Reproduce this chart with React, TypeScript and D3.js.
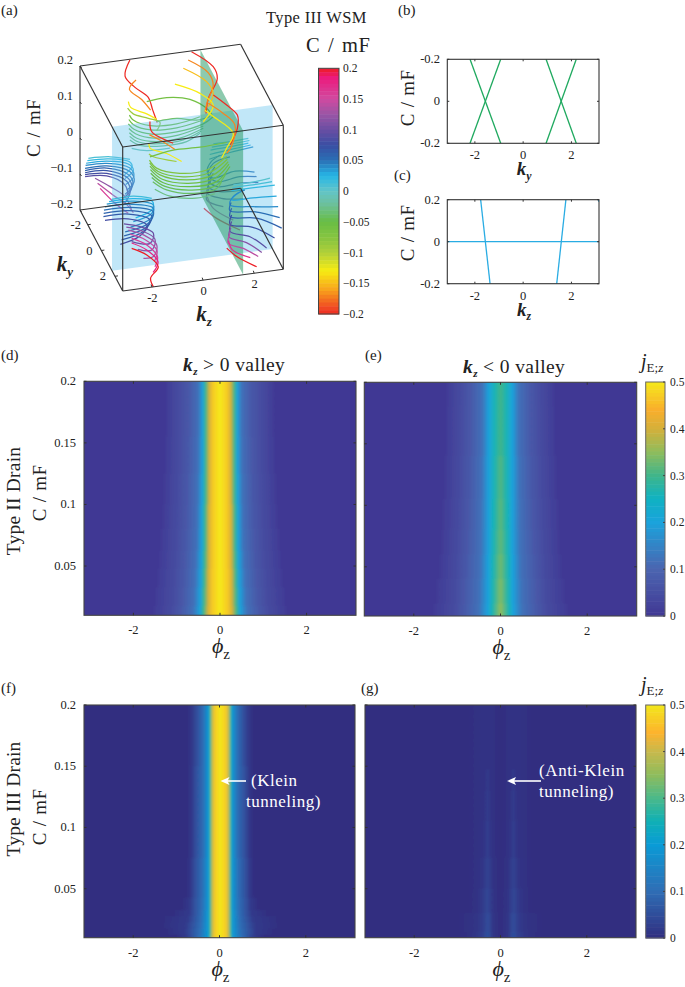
import React from "react";
import * as d3 from "d3";

const PI = Math.PI;
const FONT = "'Liberation Serif', serif";

// ---------- panel (a) data: each row is [colour value, [kz, C], ...] at a fixed ky
const kyBack = -3.14;
const kyMid = 0;
const kyLeft = -2.4;
const kyFront = 3.14;

const curvesTopBack: any[] = [
  [-0.2, [-1.19, .198], [-1.38, .155], [-.99, .12], [-.47, .087], [-.3, .051], [-.12, .014]],
  [-0.17, [-.95, .14], [-1.21, .117], [-.73, .084], [-.38, .051]],
  [-0.13, [-1.25, .083], [-1.16, .066], [-.53, .042], [-.14, .023]],
  [-0.09, [-1.28, .065], [-1.06, .047], [-.47, .029], [-.01, .013], [-.14, -.008]],
  [-0.06, [-.53, .076], [.25, .08], [1.16, .066], [1.88, .03], [2.07, .007]],
  [-0.06, [-1.21, .045], [-1.06, .03], [-.4, .008], [.64, .003], [1.55, .014]],
  [-0.055, [-.14, .017], [.64, .018], [1.42, .006], [1.94, .011]],
  [-0.055, [-1.23, .033], [-1.05, .017], [-.37, -.004], [.64, -.008], [1.62, .003]],
  [-0.05, [-1.25, .021], [-1.03, .004], [-.34, -.016], [.64, -.019], [1.68, -.007], [2.07, .009]],
  [-0.045, [-1.23, .008], [-.97, -.009], [-.24, -.028], [.7, -.029], [1.68, -.013]],
  [-0.04, [-1.21, -.004], [-.92, -.022], [-.14, -.039], [.77, -.038], [1.68, -.019]],
  [-0.035, [-1.2, -.014], [-.85, -.033], [0, -.046], [.9, -.044], [1.6, -.026]],
  [-0.03, [-1.19, -.024], [-.79, -.043], [.12, -.053], [1.03, -.05], [1.55, -.032]],
  [-0.01, [-1.12, -.048], [-.53, -.06], [.38, -.062]],
];
const curvesTopBackRight: any[] = [
  [-0.2, [1.22, .198], [2.07, .148], [2.23, .114], [1.88, .062], [1.79, .021]],
  [-0.17, [1.09, .176], [1.88, .133], [2.07, .097], [1.84, .053], [1.75, .026]],
  [-0.15, [.9, .155], [1.81, .109], [2.07, .074], [1.88, .039]],
  [-0.13, [.57, .114], [1.55, .079], [2.07, .042], [1.68, -.001]],
];
const curvesTopFront: any[] = [
  [-0.2, [-1.24, .14], [-1.17, .111], [-.33, .071]],
  [-0.17, [-1.26, .103], [-.85, .085], [-.26, .053]],
  [-0.13, [-1.28, .08], [-1.24, .066], [-.59, .045], [0, .017]],
  [-0.09, [-1.28, .05], [-1.11, .041], [-.2, .019]],
  [-0.07, [-1.26, .033], [-.98, .008], [-.07, -.015], [.98, -.016], [1.76, .014]],
  [-0.065, [-1.25, .025], [-.92, -.002], [.06, -.026], [1.1, -.024], [1.79, .006]],
  [-0.06, [-1.24, .016], [-.85, -.012], [.2, -.036], [1.24, -.032], [1.82, -.001]],
  [-0.055, [-1.22, .006], [-.78, -.024], [.26, -.046], [1.3, -.042], [1.85, -.008]],
  [-0.05, [-1.21, -.004], [-.72, -.035], [.33, -.056], [1.37, -.052], [1.89, -.015]],
  [-0.045, [-1.17, -.016], [-.65, -.046], [.4, -.066], [1.37, -.062], [1.72, -.035]],
  [-0.04, [-1.13, -.028], [-.59, -.056], [.46, -.076], [1.37, -.071], [1.56, -.054]],
  [-0.03, [-1.05, -.05], [-.45, -.075], [.55, -.09], [1.3, -.085]],
  [-0.06, [-1.24, .042], [-.33, .052], [.72, .05], [1.76, .053]],
  [-0.2, [1.24, .19], [1.76, .157], [2.18, .125], [2.18, .088], [1.89, .045]],
  [-0.17, [1.04, .169], [1.63, .135], [2.08, .099], [1.95, .04], [1.76, .023]],
  [-0.13, [.91, .151], [1.24, .13], [2.02, .076], [1.76, .037], [1.56, .011]],
];
const curvesLowLeftBack: any[] = [
  [0.01, [-3.01, -.031], [-2.16, -.035], [-1.38, -.05]],
  [0.02, [-3.05, -.037], [-2.22, -.04], [-1.4, -.056], [-1.3, -.07], [-1.6, -.09]],
  [0.03, [-3.1, -.044], [-2.29, -.046], [-1.45, -.062], [-1.25, -.081], [-1.58, -.101]],
  [0.04, [-3.12, -.05], [-2.29, -.052], [-1.4, -.073], [-1.23, -.098], [-1.55, -.118]],
  [0.05, [-3.14, -.058], [-2.29, -.059], [-1.38, -.084], [-1.22, -.113], [-1.51, -.134]],
  [0.06, [-3.14, -.064], [-2.29, -.065], [-1.42, -.093], [-1.27, -.122], [-1.58, -.145]],
  [0.07, [-3.14, -.07], [-2.29, -.072], [-1.45, -.102], [-1.32, -.131], [-1.64, -.155]],
  [0.08, [-3.14, -.075], [-2.29, -.08], [-1.5, -.11], [-1.38, -.142], [-1.6, -.17]],
  [0.09, [-3.14, -.081], [-2.29, -.087], [-1.58, -.119], [-1.45, -.153]],
  [0.12, [-2.75, -.089], [-2.16, -.118], [-1.58, -.151], [-1.32, -.191]],
  [0.14, [-2.65, -.104], [-2.05, -.142], [-1.5, -.175], [-1.25, -.199]],
  [0.16, [-2.55, -.119], [-1.97, -.166], [-1.45, -.199]],
];
const curvesLowLeftMid: any[] = [
  [0.015, [-2.74, -.062], [-1.89, -.061], [-1.17, -.074]],
  [0.025, [-2.84, -.067], [-1.89, -.068], [-1.14, -.083], [-1.15, -.105], [-1.8, -.122]],
  [0.035, [-2.93, -.073], [-1.89, -.075], [-1.11, -.093], [-1.17, -.116], [-1.89, -.132]],
  [0.042, [-3.0, -.08], [-1.95, -.083], [-1.11, -.102], [-1.22, -.13], [-2.0, -.146]],
  [0.05, [-3.04, -.089], [-2.02, -.091], [-1.11, -.112], [-1.3, -.142], [-2.21, -.157]],
  [0.058, [-3.05, -.098], [-2.05, -.1], [-1.17, -.123], [-1.4, -.153], [-2.25, -.168]],
  [0.065, [-3.06, -.107], [-2.08, -.109], [-1.24, -.134], [-1.5, -.163], [-2.35, -.178]],
  [0.08, [-3.0, -.118], [-2.1, -.122], [-1.35, -.148], [-1.65, -.175], [-2.4, -.19]],
];
const curvesLowLeftFront: any[] = [
  [0.1, [-3.09, -.014], [-2.46, -.028], [-1.94, -.051], [-2.07, -.078], [-2.79, -.066]],
  [0.115, [-3.0, -.024], [-2.4, -.04], [-1.88, -.068], [-2.0, -.097], [-2.55, -.09]],
  [0.13, [-2.92, -.033], [-2.33, -.052], [-1.81, -.085], [-1.94, -.116], [-2.33, -.117]],
  [0.145, [-2.85, -.045], [-2.26, -.066], [-1.8, -.1], [-1.9, -.13]],
  [0.16, [-2.79, -.057], [-2.2, -.081], [-1.78, -.118], [-1.88, -.145]],
  [0.18, [-2.79, -.07], [-2.2, -.095], [-1.76, -.132], [-1.95, -.16]],
  [0.2, [-2.79, -.085], [-2.2, -.109], [-1.75, -.146], [-2.05, -.175], [-1.94, -.2]],
];
const curvesLowRightMid: any[] = [
  [0.005, [1.24, .054], [1.89, .054], [2.61, .056]],
  [0.012, [1.18, .046], [1.89, .047], [2.65, .05]],
  [0.02, [1.13, .038], [1.89, .04], [2.61, .043]],
  [0.03, [1.1, .026], [1.89, .032], [2.7, .037]],
  [0.04, [1.08, .013], [1.89, .024], [2.8, .031]],
  [0.05, [1.5, .02], [1.15, .005], [1.0, -.02], [1.2, -.04], [2.1, -.03], [2.85, -.04]],
  [0.06, [1.89, .012], [1.24, 0], [1.04, -.03], [1.37, -.052], [2.28, -.047], [2.93, -.053]],
  [0.07, [1.3, -.01], [1.05, -.045], [1.4, -.066], [2.3, -.065], [3.0, -.07]],
  [0.08, [1.24, -.028], [1.04, -.063], [1.5, -.081], [2.41, -.085]],
  [0.095, [1.15, -.045], [1.0, -.08], [1.55, -.1], [2.4, -.11]],
  [0.11, [1.11, -.063], [.98, -.099], [1.63, -.124]],
  [0.14, [1.0, -.09], [1.24, -.125], [2.02, -.165]],
  [0.2, [.87, -.121], [1.37, -.154], [2.28, -.195]],
];
const curvesLowRightFront: any[] = [
  [0.005, [1.19, .053], [1.84, .053], [2.62, .058]],
  [0.012, [1.15, .046], [1.84, .046], [2.7, .048]],
  [0.02, [1.12, .038], [1.84, .038], [2.81, .037]],
  [0.03, [1.4, .03], [1.12, .012], [1.84, .01], [2.88, .006]],
  [0.04, [1.64, .035], [1.19, .021], [1.06, -.001], [1.97, -.015], [2.94, -.024]],
  [0.05, [1.1, .005], [1.05, -.017], [2.05, -.03], [3.0, -.055]],
  [0.06, [1.12, -.011], [1.06, -.034], [2.1, -.048], [3.08, -.085]],
  [0.075, [1.12, -.03], [1.06, -.055], [1.95, -.072], [2.8, -.11]],
  [0.09, [1.12, -.048], [1.06, -.075], [1.84, -.097], [2.49, -.135]],
  [0.115, [1.09, -.065], [1.02, -.09], [1.7, -.112], [2.3, -.145]],
  [0.14, [1.06, -.08], [.99, -.107], [1.58, -.127], [2.16, -.155]],
  [0.17, [1.0, -.1], [1.15, -.127], [1.85, -.155]],
  [0.2, [.93, -.12], [1.32, -.147], [2.1, -.183]],
];
const planeKy = 1.57;
const planeKz = 1.57;
const cTicks3d = [-0.2, -0.1, 0, 0.1, 0.2];
const kTicks3d = [-2, 0, 2];

const rainbowVals = [0.2, 0.185, 0.15, 0.125, 0.1, 0.075, 0.05, 0.025, 0, -0.02, -0.05, -0.08, -0.1, -0.13, -0.16, -0.2];
const rainbowCols = ["#ed1c24", "#ec1a7c", "#d04aa0", "#9a55a5", "#6a4ea3", "#3a4ea3", "#2a6fb5", "#27b6e6", "#62c5c8", "#6cc0a0", "#68bd45", "#8cc63f", "#b0cf3a", "#f7ec13", "#f8a51c", "#ee2a24"];
const rainbowTicks = [0.2, 0.15, 0.1, 0.05, 0, -0.05, -0.1, -0.15, -0.2];

// ---------- panels (b), (c)
const linesB = [[-2.2, -0.2, -0.93, 0.2], [-0.93, -0.2, -2.2, 0.2], [0.95, -0.2, 2.2, 0.2], [2.2, -0.2, 0.95, 0.2]];
const linesC = [[-1.76, 0.2, -1.37, -0.2], [1.77, 0.2, 1.39, -0.2], [-3.14, 0, 3.14, 0], [3.12, 0.2, 3.14, 0.19]];

// ---------- heat maps: half widths in phi at which j reaches each level
const levelsD = [0.012, 0.04, 0.07, 0.12, 0.2, 0.3, 0.4, 0.47];
const rowsD = [
  [0.2, 0.5, 1.23, 1.0, .72, .5, .4, .33, .25, .16],
  [0.17, 0.5, 1.23, 1.0, .72, .5, .4, .33, .25, .16],
  [0.14, 0.5, 1.25, 1.0, .74, .51, .4, .33, .25, .16],
  [0.11, 0.5, 1.28, 1.02, .76, .52, .41, .33, .25, .16],
  [0.09, 0.5, 1.31, 1.03, .77, .53, .42, .34, .26, .16],
  [0.07, 0.5, 1.35, 1.05, .79, .54, .42, .34, .26, .16],
  [0.055, 0.5, 1.39, 1.07, .81, .56, .43, .35, .26, .16],
  [0.04, 0.5, 1.43, 1.1, .84, .58, .44, .36, .27, .17],
  [0.025, 0.5, 1.48, 1.12, .86, .6, .45, .37, .27, .17],
  [0.01, 0.5, 1.52, 1.15, .9, .62, .46, .38, .28, .17],
];
const levelsE = [0.012, 0.04, 0.07, 0.12, 0.2, 0.26];
const rowsE = [
  [0.2, 0.3, 1.23, .95, .7, .42, .27, .14],
  [0.16, 0.3, 1.24, .96, .7, .42, .27, .14],
  [0.12, 0.31, 1.27, .98, .72, .44, .27, .15],
  [0.09, 0.315, 1.31, 1.0, .74, .45, .27, .16],
  [0.07, 0.32, 1.34, 1.02, .77, .46, .27, .17],
  [0.05, 0.33, 1.38, 1.04, .8, .47, .28, .18],
  [0.03, 0.34, 1.45, 1.08, .83, .49, .28, .19],
  [0.01, 0.35, 1.52, 1.1, .85, .5, .29, .2],
];
const levelsF = [0.006, 0.02, 0.05, 0.1, 0.2, 0.3, 0.4, 0.47];
const rowsF = [
  [0.2, 0.5, .74, .65, .55, .4, .27, .23, .19, .12],
  [0.1, 0.5, .74, .66, .58, .4, .27, .23, .19, .12],
  [0.05, 0.5, .76, .68, .6, .42, .27, .23, .19, .12],
  [0.035, 0.5, .85, .7, .62, .43, .27, .23, .19, .12],
  [0.03, 0.5, 1.05, .72, .63, .44, .28, .23, .19, .12],
  [0.025, 0.5, 1.28, .76, .65, .45, .28, .23, .19, .12],
  [0.02, 0.5, 1.3, .8, .68, .46, .28, .23, .19, .12],
  [0.015, 0.5, 1.2, .82, .7, .48, .28, .23, .19, .12],
  [0.01, 0.5, 1.0, .8, .68, .5, .28, .24, .19, .12],
];
const phiG = [0, .1, .18, .24, .3, .36, .42, .55, .75, 1.0];
const rowsG = [
  [0.2, 0, .002, .008, .008, .008, .008, .008, .006, 0, 0],
  [0.155, 0, .002, .008, .008, .008, .008, .008, .006, 0, 0],
  [0.14, 0, .002, .008, .008, .02, .008, .008, .006, 0, 0],
  [0.12, 0, .002, .008, .012, .024, .012, .008, .006, 0, 0],
  [0.09, 0, .003, .008, .016, .028, .016, .01, .006, 0, 0],
  [0.06, 0, .004, .01, .022, .034, .022, .012, .007, 0, 0],
  [0.04, 0, .006, .012, .028, .04, .03, .018, .008, 0, 0],
  [0.02, 0, .008, .014, .036, .05, .036, .024, .012, .006, 0],
  [0.01, 0, .008, .014, .04, .055, .04, .03, .016, .004, 0],
];
const phiTicks = [-2, 0, 2];
const driveTicks = [0.05, 0.1, 0.15, 0.2];
const jTicks = [0, 0.1, 0.2, 0.3, 0.4, 0.5];
const jValsUpper = [0, 0.1, 0.2, 0.25, 0.3, 0.35, 0.4, 0.44, 0.5];
const jColsUpper = ["#413894", "#4b65b0", "#1ba3dc", "#0fb2c2", "#40b58a", "#8fbc5c", "#d5b03a", "#f9ae2c", "#f5e91b"];
const jValsLower = [0, 0.1, 0.2, 0.25, 0.3, 0.35, 0.4, 0.44, 0.5];
const jColsLower = ["#302d80", "#2f6db5", "#0a9bd6", "#0fb0b5", "#4bb98a", "#8fbc5c", "#c8b94c", "#fdb32d", "#f2e71c"];

// ---------- shared scales
const rainbow = d3.scaleLinear<string>().domain(rainbowVals).range(rainbowCols).clamp(true);
const parulaUp = d3.scaleLinear<string>().domain(jValsUpper).range(jColsUpper).clamp(true);
const parulaLow = d3.scaleLinear<string>().domain(jValsLower).range(jColsLower).clamp(true);

const kzX = d3.scaleLinear().domain([-PI, PI]).range([0, 160.6]);
const kzY = d3.scaleLinear().domain([-PI, PI]).range([0, -21.7]);
const kyX = d3.scaleLinear().domain([-PI, PI]).range([0, 42.7]);
const kyY = d3.scaleLinear().domain([-PI, PI]).range([0, 81]);
const cY = d3.scaleLinear().domain([-0.2, 0.2]).range([0, -144]);
const proj = (kz: number, ky: number, c: number): [number, number] => [80 + kzX(kz) + kyX(ky), 210 + kzY(kz) + kyY(ky) + cY(c)];

const T = ({ x, y, s = 12.5, a = "start", rot, children, fill = "#222", ...p }: any) => (
  <text x={x} y={y} fontSize={s} textAnchor={a} fill={fill} fontFamily={FONT} transform={rot ? `rotate(${rot} ${x} ${y})` : undefined} {...p}>{children}</text>
);

const KLabel = ({ x, y, sub, s = 20 }: any) => (
  <text x={x} y={y} fontFamily={FONT} fontSize={s} textAnchor="middle" fill="#222">
    <tspan fontWeight="bold" fontStyle="italic">k</tspan>
    <tspan fontWeight="bold" fontStyle="italic" fontSize={s * 0.62} dy={s * 0.25}>{sub}</tspan>
  </text>
);

const PhiLabel = ({ x, y }: any) => (
  <text x={x} y={y} fontFamily={FONT} fontSize={22} textAnchor="middle" fill="#222">
    <tspan fontStyle="italic">ϕ</tspan><tspan fontSize={15} dy={6}>z</tspan>
  </text>
);

const JLabel = ({ x, y }: any) => (
  <text x={x} y={y} fontFamily={FONT} fontSize={20} fill="#222">
    <tspan fontStyle="italic">j</tspan><tspan fontSize={13} dy={4}>E;</tspan><tspan fontSize={13} fontStyle="italic">z</tspan>
  </text>
);

function Curves({ rows, ky }: { rows: any[]; ky: number }) {
  const line = d3.line<[number, number]>().curve(d3.curveCatmullRom.alpha(0.5));
  return (
    <g fill="none" strokeWidth={1.25}>
      {rows.map((r, i) => {
        const pts = r.slice(1).map((p: number[]) => proj(p[0], ky, p[1]));
        return <path key={i} d={line(pts) || ""} stroke={rainbow(r[0])} />;
      })}
    </g>
  );
}

function Panel3D() {
  const poly = (c: [number, number, number][]) => c.map((p) => proj(p[0], p[1], p[2]).join(",")).join(" ");
  const edges: number[][][] = [
    [[-PI, -PI, .2], [PI, -PI, .2]], [[PI, -PI, .2], [PI, PI, .2]], [[PI, PI, .2], [-PI, PI, .2]], [[-PI, PI, .2], [-PI, -PI, .2]],
    [[-PI, -PI, -.2], [PI, -PI, -.2]], [[PI, -PI, -.2], [PI, PI, -.2]], [[PI, PI, -.2], [-PI, PI, -.2]], [[-PI, PI, -.2], [-PI, -PI, -.2]],
    [[-PI, -PI, -.2], [-PI, -PI, .2]], [[-PI, PI, -.2], [-PI, PI, .2]], [[PI, PI, -.2], [PI, PI, .2]],
  ];
  return (
    <g>
      <Curves rows={curvesTopBack} ky={kyBack} />
      <Curves rows={curvesLowLeftBack} ky={kyLeft} />
      <Curves rows={curvesLowRightMid} ky={kyMid} />
      <polygon points={poly([[-PI, planeKy, -.2], [PI, planeKy, -.2], [PI, planeKy, .2], [-PI, planeKy, .2]])} fill="#6cc5ef" fillOpacity={0.42} />
      <polygon points={poly([[planeKz, -PI, -.2], [planeKz, PI, -.2], [planeKz, PI, .2], [planeKz, -PI, .2]])} fill="#2f9e6c" fillOpacity={0.55} />
      <Curves rows={curvesTopBackRight} ky={kyBack} />
      <Curves rows={curvesTopFront} ky={kyMid} />
      <Curves rows={curvesLowLeftMid} ky={kyMid} />
      <Curves rows={curvesLowLeftFront} ky={kyFront} />
      <Curves rows={curvesLowRightFront} ky={kyFront} />
      {edges.map((e, i) => {
        const a = proj(e[0][0], e[0][1], e[0][2]);
        const b = proj(e[1][0], e[1][1], e[1][2]);
        return <line key={i} x1={a[0]} y1={a[1]} x2={b[0]} y2={b[1]} stroke="#333" strokeWidth={1.15} />;
      })}
      {cTicks3d.map((c) => {
        const p = proj(-PI, -PI, c);
        return (
          <g key={c}>
            <line x1={p[0]} y1={p[1]} x2={p[0] + 1.5} y2={p[1] + 2} stroke="#333" />
            <T x={73} y={p[1] - 2} a="end">{d3.format("")(c)}</T>
          </g>
        );
      })}
      {kTicks3d.map((k) => {
        const p = proj(k, PI, -.2);
        return (
          <g key={k}>
            <line x1={p[0]} y1={p[1]} x2={p[0] - 0.8} y2={p[1] - 2.5} stroke="#333" />
            <T x={p[0] + 0.5} y={p[1] + 15} a="middle">{k}</T>
          </g>
        );
      })}
      {kTicks3d.map((k) => {
        const p = proj(-PI, k, -.2);
        return (
          <g key={k}>
            <line x1={p[0]} y1={p[1]} x2={p[0] + 3} y2={p[1] - 0.4} stroke="#333" />
            <T x={p[0] - 12} y={p[1] + 4} a="middle">{k}</T>
          </g>
        );
      })}
      <T x={33} y={128} s={19} a="middle" rot={-90} dominantBaseline="central" wordSpacing={1.5} letterSpacing={0.4}>C / mF</T>
      <KLabel x={65} y={271} sub="y" s={21} />
      <KLabel x={204} y={321} sub="z" s={21} />
      <T x={266} y={23} s={16.5} letterSpacing={0.35}>Type III WSM</T>
      <T x={306} y={52} s={20.5} wordSpacing={2} letterSpacing={0.6}>C / mF</T>
      <Rainbow />
    </g>
  );
}

function Rainbow() {
  const y = d3.scaleLinear().domain([-0.2, 0.2]).range([314, 68.3]);
  const bands = d3.range(0, 64);
  const h = (314 - 68.3) / 64;
  return (
    <g>
      {bands.map((b) => (
        <rect key={b} x={318.5} y={68.3 + b * h} width={20.5} height={h + 0.5} fill={rainbow(0.2 - (b + 0.5) * (0.4 / 64))} />
      ))}
      <rect x={318.5} y={68.3} width={20.5} height={245.7} fill="none" stroke="#444" strokeWidth={1} />
      {rainbowTicks.map((t) => (
        <T key={t} x={343} y={y(t) + 4} s={11.5}>{d3.format("")(t)}</T>
      ))}
    </g>
  );
}

function LinePanel({ lines, top, color, yDomain, yLab, sub, labelY }: any) {
  const left = 447.3, right = 599, h = 84;
  const x = d3.scaleLinear().domain([-PI, PI]).range([left, right]);
  const y = d3.scaleLinear().domain(yDomain).range([top + h, top]);
  const id = `clip-${sub}`;
  return (
    <g>
      <clipPath id={id}><rect x={left} y={top} width={right - left} height={h} /></clipPath>
      <g clipPath={`url(#${id})`}>
        {lines.map((l: number[], i: number) => (
          <line key={i} x1={x(l[0])} y1={y(l[1])} x2={x(l[2])} y2={y(l[3])} stroke={color} strokeWidth={1.3} />
        ))}
      </g>
      <rect x={left} y={top} width={right - left} height={h} fill="none" stroke="#333" strokeWidth={1.1} />
      {phiTicks.map((t) => (
        <g key={t}>
          <line x1={x(t)} x2={x(t)} y1={top + h} y2={top + h - 2} stroke="#333" />
          <line x1={x(t)} x2={x(t)} y1={top} y2={top + 2} stroke="#333" />
          <T x={x(t)} y={top + h + 16} a="middle">{t}</T>
        </g>
      ))}
      {yLab.map((t: any, i: number) => (
        <g key={i}>
          <line x1={left} x2={left + 2} y1={top + (h * i) / 2} y2={top + (h * i) / 2} stroke="#333" />
          <line x1={right} x2={right - 2} y1={top + (h * i) / 2} y2={top + (h * i) / 2} stroke="#333" />
          <T x={440} y={top + (h * i) / 2 + 4} a="end">{t}</T>
        </g>
      ))}
      <T x={407} y={labelY} s={19} a="middle" rot={-90} dominantBaseline="central" wordSpacing={1} letterSpacing={0.3}>C / mF</T>
      <KLabel x={524} y={top + h + 32} sub={sub} s={19} />
    </g>
  );
}

function Heat({ id, x0, x1, y0, y1, rows, levels, cmap, center = 0, labels }: any) {
  const x = d3.scaleLinear().domain([-PI, PI]).range([x0, x1]);
  const y = d3.scaleLinear().domain([0.01, 0.2]).range([y1, y0]);
  const off = d3.scaleLinear().domain([-PI, PI]).range([0, 1]);
  const stopsOf = (r: number[]) => {
    const pos: [number, number][] = [];
    if (levels) {
      const w = r.slice(2);
      pos.push([0, r[1]]);
      w.slice().reverse().forEach((wi: number, k: number) => pos.push([wi, levels[levels.length - 1 - k]]));
      pos.push([w[0] + 0.02, 0]);
    } else {
      phiG.forEach((p: number, k: number) => pos.push([p, r[k + 1]]));
    }
    return [...pos.slice().reverse().map((p) => [-p[0] + center, p[1]]), ...pos.slice(1).map((p) => [p[0] + center, p[1]])];
  };
  const tops = rows.map((r: number[], i: number) => (i === 0 ? y0 - 4 : (y(rows[i - 1][0]) + y(r[0])) / 2));
  return (
    <g>
      <defs>
        <clipPath id={`${id}-clip`}><rect x={x0} y={y0} width={x1 - x0} height={y1 - y0} /></clipPath>
        <filter id={`${id}-blur`} x="-5%" y="-5%" width="110%" height="110%"><feGaussianBlur stdDeviation="0.8" /></filter>
        {rows.map((r: number[], i: number) => (
          <linearGradient key={i} id={`${id}-g${i}`} gradientUnits="userSpaceOnUse" x1={x0} x2={x1} y1={0} y2={0}>
            {stopsOf(r).map((s: number[], k: number) => (
              <stop key={k} offset={off(s[0])} stopColor={cmap(s[1])} />
            ))}
          </linearGradient>
        ))}
      </defs>
      <g clipPath={`url(#${id}-clip)`}>
        <g filter={`url(#${id}-blur)`}>
          {rows.map((r: number[], i: number) => (
            <rect key={i} x={x0 - 4} width={x1 - x0 + 8} y={tops[i]} height={y1 + 4 - tops[i]} fill={`url(#${id}-g${i})`} />
          ))}
        </g>
      </g>
      <rect x={x0} y={y0} width={x1 - x0} height={y1 - y0} fill="none" stroke="#444" strokeWidth={1.1} />
      {phiTicks.map((t) => (
        <g key={t}>
          <line x1={x(t)} x2={x(t)} y1={y1} y2={y1 - 2.5} stroke="#333" />
          <line x1={x(t)} x2={x(t)} y1={y0} y2={y0 + 2.5} stroke="#333" />
          <T x={x(t)} y={y1 + 19} a="middle">{t}</T>
        </g>
      ))}
      {driveTicks.map((t) => (
        <g key={t}>
          <line x1={x0} x2={x0 + 2.5} y1={y(t)} y2={y(t)} stroke="#333" />
          <line x1={x1} x2={x1 - 2.5} y1={y(t)} y2={y(t)} stroke="#333" />
          {labels ? <T x={76} y={y(t) + 4} a="end">{d3.format("")(t)}</T> : null}
        </g>
      ))}
      <PhiLabel x={(x0 + x1) / 2 + 1} y={y1 + 38} />
    </g>
  );
}

function JBar({ y0, y1, cmap }: any) {
  const x0 = 645.7, w = 19.3;
  const y = d3.scaleLinear().domain([0, 0.5]).range([y1, y0]);
  const bands = d3.range(0, 64);
  const h = (y1 - y0) / 64;
  return (
    <g>
      {bands.map((b) => (
        <rect key={b} x={x0} y={y0 + b * h} width={w} height={h + 0.5} fill={cmap(0.5 - (b + 0.5) * (0.5 / 64))} />
      ))}
      <rect x={x0} y={y0} width={w} height={y1 - y0} fill="none" stroke="#666" strokeWidth={1} />
      {jTicks.map((t) => (
        <g key={t}>
          <line x1={x0 + w} x2={x0 + w - 2} y1={y(t)} y2={y(t)} stroke="#444" />
          <T x={670} y={y(t) + 4} s={11.5}>{d3.format("")(t)}</T>
        </g>
      ))}
      <JLabel x={641} y={y0 - 14} />
    </g>
  );
}

const Arrow = ({ x1, x2, y }: any) => (
  <g>
    <line x1={x1} x2={x2 + 6} y1={y} y2={y} stroke="#fff" strokeWidth={1.6} />
    <polygon points={[[x2, y], [x2 + 9, y - 4], [x2 + 7, y], [x2 + 9, y + 4]].map((p) => p.join(",")).join(" ")} fill="#fff" />
  </g>
);

export default function App() {
  return (
    <svg width={685} height={987} style={{ position: "absolute", left: 0, top: 0, background: "#fff" }}>
      <T x={1} y={15} s={15}>(a)</T>
      <T x={398} y={15} s={15}>(b)</T>
      <T x={394} y={180} s={15}>(c)</T>
      <T x={1} y={360} s={15}>(d)</T>
      <T x={365} y={360} s={15}>(e)</T>
      <T x={1} y={693} s={15}>(f)</T>
      <T x={361} y={693} s={15}>(g)</T>

      <Panel3D />
      <LinePanel lines={linesB} top={59.3} color="#1fa95f" yDomain={[-0.2, 0.2]} yLab={["-0.2", "0", "-0.2"]} sub="y" labelY={98} />
      <LinePanel lines={linesC} top={199.7} color="#29ace3" yDomain={[-0.2, 0.2]} yLab={["0.2", "0", "-0.2"]} sub="z" labelY={233} />

      <Heat id="d" x0={84} x1={356} y0={381.3} y1={615.3} rows={rowsD} levels={levelsD} cmap={parulaUp} labels />
      <Heat id="e" x0={364.3} x1={636.7} y0={382.3} y1={616} rows={rowsE} levels={levelsE} cmap={parulaUp} />
      <Heat id="f" x0={84} x1={355} y0={705} y1={937.7} rows={rowsF} levels={levelsF} cmap={parulaLow} center={0.02} labels />
      <Heat id="g" x0={365} x1={636} y0={705} y1={937.7} rows={rowsG} cmap={parulaLow} />

      <JBar y0={382} y1={616} cmap={parulaUp} />
      <JBar y0={705} y1={938} cmap={parulaLow} />

      <text x={183} y={371} fontFamily={FONT} fontSize={19.5} fill="#222" letterSpacing={0.4}>
        <tspan fontWeight="bold" fontStyle="italic">k</tspan>
        <tspan fontWeight="bold" fontStyle="italic" fontSize={11} dy={4}>z</tspan>
        <tspan dy={-4}> &gt; 0 valley</tspan>
      </text>
      <text x={463} y={373} fontFamily={FONT} fontSize={19.5} fill="#222" letterSpacing={0.4}>
        <tspan fontWeight="bold" fontStyle="italic">k</tspan>
        <tspan fontWeight="bold" fontStyle="italic" fontSize={11} dy={4}>z</tspan>
        <tspan dy={-4}> &lt; 0 valley</tspan>
      </text>

      <T x={13} y={501} s={19.5} a="middle" rot={-90} dominantBaseline="central" letterSpacing={0.2}>Type II Drain</T>
      <T x={39} y={493} s={19} a="middle" rot={-90} dominantBaseline="central" wordSpacing={1} letterSpacing={0.3}>C / mF</T>
      <T x={13} y={799} s={19.5} a="middle" rot={-90} dominantBaseline="central" letterSpacing={0.2}>Type III Drain</T>
      <T x={39} y={817} s={19} a="middle" rot={-90} dominantBaseline="central" wordSpacing={1} letterSpacing={0.3}>C / mF</T>

      <Arrow x1={246} x2={220.5} y={781} />
      <T x={251} y={786} s={17} fill="#fff" letterSpacing={0.5}>(Klein</T>
      <T x={246} y={807} s={17} fill="#fff" letterSpacing={0.5}>tunneling)</T>
      <Arrow x1={541} x2={507} y={781} />
      <T x={539} y={776} s={17} fill="#fff" letterSpacing={0.6}>(Anti-Klein</T>
      <T x={539} y={797} s={17} fill="#fff" letterSpacing={0.5}>tunneling)</T>
    </svg>
  );
}
